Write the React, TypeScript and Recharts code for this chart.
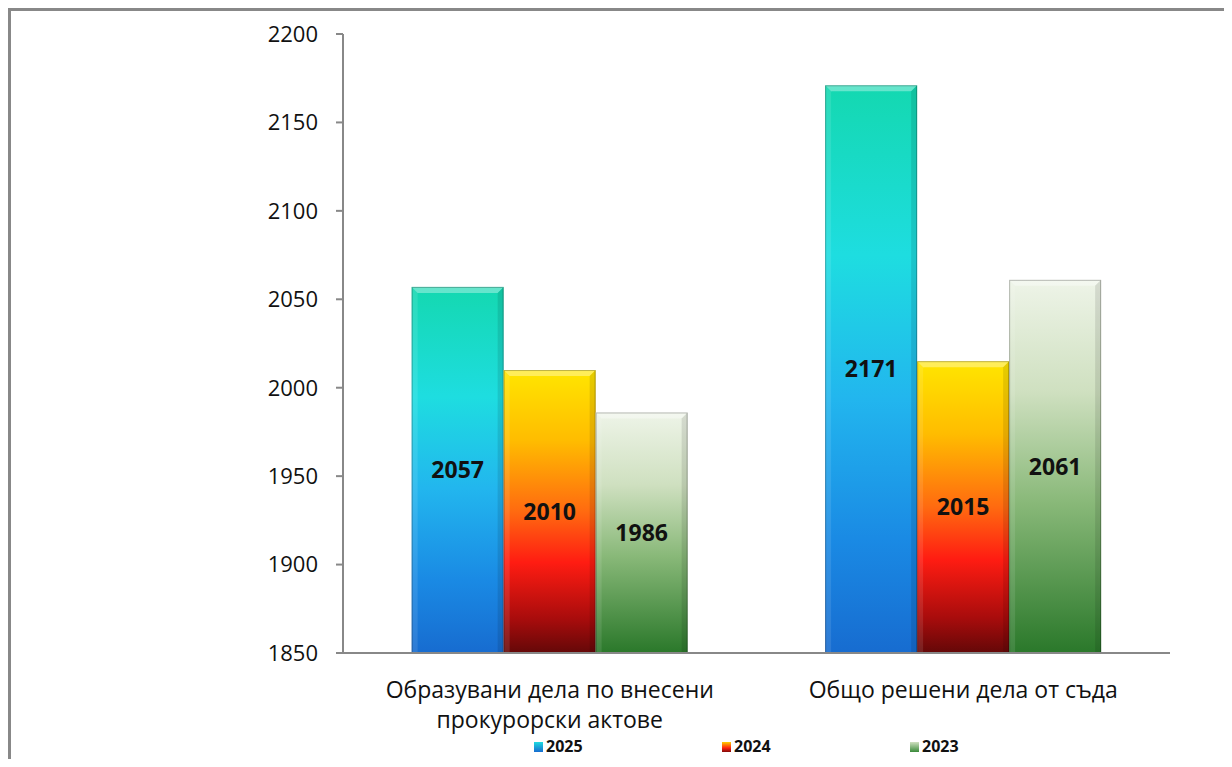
import React from "react";
import { BarChart, Bar, XAxis, YAxis, LabelList, Legend } from "recharts";

const categories = [
  "Образувани дела по внесени\nпрокурорски актове",
  "Общо решени дела от съда",
];
const values2025 = [2057, 2171];
const values2024 = [2010, 2015];
const values2023 = [1986, 2061];
const seriesNames = ["2025", "2024", "2023"];
const yTicks = [1850, 1900, 1950, 2000, 2050, 2100, 2150, 2200];

const data = categories.map((c, i) => ({
  category: c,
  s2025: values2025[i],
  s2024: values2024[i],
  s2023: values2023[i],
}));

const FONT = "'Open Sans', 'Liberation Sans', sans-serif";

const gradients = {
  g2025: [
    ["0%", "#14d8b0"],
    ["30%", "#1edde0"],
    ["55%", "#22b6ee"],
    ["80%", "#1a8ae4"],
    ["100%", "#176cd0"],
  ],
  g2024: [
    ["0%", "#ffe600"],
    ["25%", "#ffbc00"],
    ["50%", "#ff6a10"],
    ["68%", "#ff1c12"],
    ["88%", "#a80c0c"],
    ["100%", "#640808"],
  ],
  g2023: [
    ["0%", "#eef4e8"],
    ["30%", "#cfe0c0"],
    ["60%", "#88b878"],
    ["100%", "#2a782a"],
  ],
};

const legendCss = [
  "linear-gradient(#1fdbe0, #176cd0)",
  "linear-gradient(#ffd000, #ff2010 60%, #800a0a)",
  "linear-gradient(#cfe0c0, #3a8a3a)",
];

const BevelBar = (props: any) => {
  const { x, y, width, height, fill } = props;
  if (!height || height <= 0) return null;
  const b = 6;
  return (
    <g>
      <rect x={x} y={y} width={width} height={height} fill={fill} />
      <polygon
        points={`${x},${y} ${x + width},${y} ${x + width - b},${y + b} ${x + b},${y + b}`}
        fill="#ffffff"
        opacity={0.35}
      />
      <polygon
        points={`${x},${y} ${x + b},${y + b} ${x + b},${y + height} ${x},${y + height}`}
        fill="#ffffff"
        opacity={0.1}
      />
      <polygon
        points={`${x + width},${y} ${x + width - b},${y + b} ${x + width - b},${y + height} ${x + width},${y + height}`}
        fill="#000000"
        opacity={0.1}
      />
      <rect
        x={x + 0.5}
        y={y + 0.5}
        width={width - 1}
        height={height - 1}
        fill="none"
        stroke="rgba(0,0,0,0.25)"
        strokeWidth={1}
      />
    </g>
  );
};

const XTick = (props: any) => {
  const { x, y, payload } = props;
  const lines = String(payload.value).split("\n");
  return (
    <g transform={`translate(${x},${y})`}>
      <text textAnchor="middle" fontSize={23} fill="#111" fontFamily={FONT}>
        {lines.map((l, i) => (
          <tspan key={i} x={0} y={45 + i * 30}>
            {l}
          </tspan>
        ))}
      </text>
    </g>
  );
};

const LegendContent = () => (
  <div style={{ position: "relative", height: 20, fontFamily: FONT }}>
    {seriesNames.map((n, i) => (
      <div
        key={n}
        style={{
          position: "absolute",
          left: 523 + i * 188,
          top: 0,
          height: 20,
          display: "flex",
          alignItems: "center",
        }}
      >
        <span
          style={{
            display: "inline-block",
            width: 9,
            height: 10,
            background: legendCss[i],
            marginRight: 3,
            marginTop: 2,
          }}
        />
        <span style={{ fontWeight: 700, fontSize: 16, color: "#111", lineHeight: "20px" }}>{n}</span>
      </div>
    ))}
  </div>
);

export default function App() {
  return (
    <div
      style={{
        width: 1230,
        height: 751,
        borderLeft: "3px solid #888",
        borderTop: "3px solid #888",
        boxSizing: "border-box",
        background: "#fff",
        fontFamily: FONT,
        overflow: "hidden",
      }}
    >
      <style>{`html,body{overflow:hidden}`}</style>
      <BarChart
        width={1213}
        height={748}
        data={data}
        margin={{ top: 23, right: 54, left: 0, bottom: 8 }}
        barCategoryGap="16.6%"
        barGap={0}
      >
        <defs>
          {Object.entries(gradients).map(([id, stops]) => (
            <linearGradient key={id} id={id} x1="0" y1="0" x2="0" y2="1">
              {stops.map(([o, c]) => (
                <stop key={o} offset={o} stopColor={c} />
              ))}
            </linearGradient>
          ))}
        </defs>
        <XAxis
          dataKey="category"
          height={78}
          axisLine={{ stroke: "#888", strokeWidth: 2 }}
          tickLine={false}
          tickSize={0}
          tickMargin={0}
          tick={<XTick />}
          interval={0}
        />
        <YAxis
          width={332}
          domain={[1850, 2200]}
          ticks={yTicks}
          allowDataOverflow
          axisLine={{ stroke: "#888", strokeWidth: 2 }}
          tickLine={{ stroke: "#888", strokeWidth: 2 }}
          tickSize={7}
          tickMargin={18}
          tick={{ fontSize: 22, fill: "#111", fontFamily: FONT }}
        />
        <Legend
          verticalAlign="bottom"
          align="left"
          height={20}
          content={<LegendContent />}
          wrapperStyle={{ left: 0, width: 1213, bottom: 3 }}
        />
        <Bar dataKey="s2025" name="2025" fill="url(#g2025)" shape={<BevelBar />} isAnimationActive={false}>
          <LabelList dataKey="s2025" position="center" fontSize={23} fontWeight={700} fill="#111" fontFamily={FONT} />
        </Bar>
        <Bar dataKey="s2024" name="2024" fill="url(#g2024)" shape={<BevelBar />} isAnimationActive={false}>
          <LabelList dataKey="s2024" position="center" fontSize={23} fontWeight={700} fill="#111" fontFamily={FONT} />
        </Bar>
        <Bar dataKey="s2023" name="2023" fill="url(#g2023)" shape={<BevelBar />} isAnimationActive={false}>
          <LabelList dataKey="s2023" position="center" fontSize={23} fontWeight={700} fill="#111" fontFamily={FONT} />
        </Bar>
      </BarChart>
    </div>
  );
}
